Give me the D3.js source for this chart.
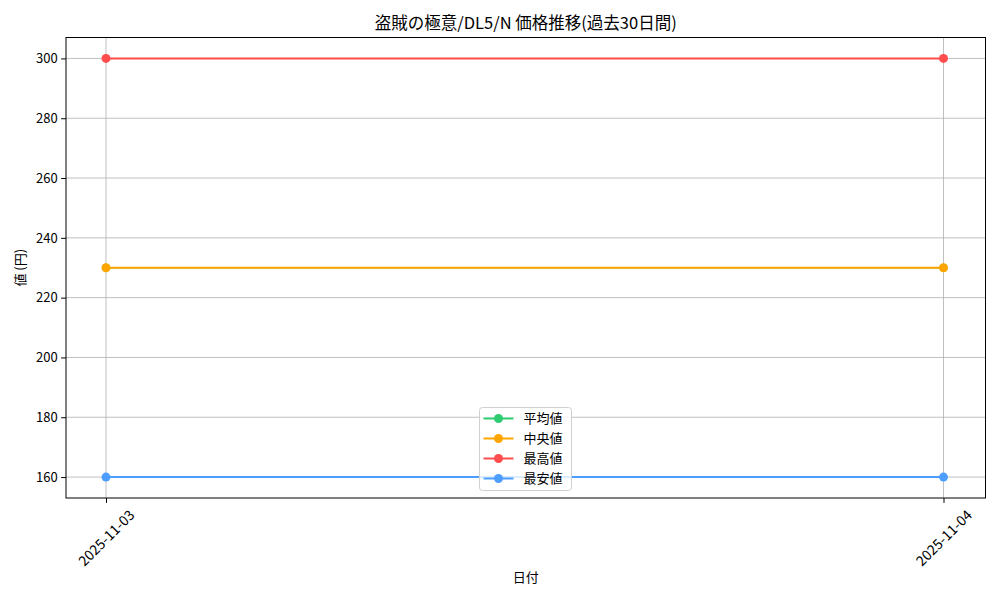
<!DOCTYPE html>
<html>
<head>
<meta charset="utf-8">
<script src="https://cdn.jsdelivr.net/npm/d3@7"></script>
<style>
  body { margin: 0; background: #fff; }
  svg text { font-family: "Noto Sans CJK JP", "DejaVu Sans", sans-serif; }
</style>
</head>
<body>
<svg id="chart" width="1000" height="600"></svg>
<script>
// data
var dates = ["2025-11-03", "2025-11-04"];
var seriesNames = ["平均値", "中央値", "最高値", "最安値"];
var seriesColors = ["#2ecc71", "#ffa500", "#ff4d4d", "#4d9eff"];
var avgValues = [230, 230];
var medianValues = [230, 230];
var maxValues = [300, 300];
var minValues = [160, 160];
var yTicks = [160, 180, 200, 220, 240, 260, 280, 300];

var allSeries = [avgValues, medianValues, maxValues, minValues];

var margin = {top: 37.5, right: 14.5, bottom: 102, left: 66};
var width = 1000 - margin.left - margin.right,
    height = 600 - margin.top - margin.bottom;

var svg = d3.select("#chart");
var g = svg.append("g").attr("transform", "translate(" + margin.left + "," + margin.top + ")");

var x = d3.scalePoint().domain(dates).range([40, width - 42]);
var y = d3.scaleLinear().domain([153, 307]).range([height, 0]);

// grid
g.append("g").selectAll("line.vg").data(dates).enter().append("line")
  .attr("x1", function(d) { return x(d); }).attr("x2", function(d) { return x(d); })
  .attr("y1", 0).attr("y2", height)
  .attr("stroke", "#b0b0b0").attr("stroke-width", 0.8);
g.append("g").selectAll("line.hg").data(yTicks).enter().append("line")
  .attr("x1", 0).attr("x2", width)
  .attr("y1", function(d) { return y(d); }).attr("y2", function(d) { return y(d); })
  .attr("stroke", "#b0b0b0").attr("stroke-width", 0.8);

// lines + dots (average is drawn first, median covers it)
var line = d3.line().x(function(d, i) { return x(dates[i]); }).y(function(d) { return y(d); });
allSeries.forEach(function(vals, s) {
  g.append("path").datum(vals)
    .attr("d", line).attr("fill", "none")
    .attr("stroke", seriesColors[s]).attr("stroke-width", s == 0 ? 1.6 : 2);
  g.append("g").selectAll("circle").data(vals).enter().append("circle")
    .attr("cx", function(d, i) { return x(dates[i]); })
    .attr("cy", function(d) { return y(d); })
    .attr("r", s == 0 ? 4 : 4.5).attr("fill", seriesColors[s]);
});

// axes
var xAxis = g.append("g").attr("transform", "translate(0," + height + ")")
  .call(d3.axisBottom(x).tickSize(4.9));
xAxis.select(".domain").remove();
xAxis.selectAll("text")
  .attr("font-size", 14).attr("fill", "#000")
  .attr("text-anchor", "middle")
  .attr("y", 0).attr("dy", "0.35em")
  .attr("transform", "translate(0,40) rotate(-45)");

var yAxis = g.append("g").call(d3.axisLeft(y).tickValues(yTicks).tickSize(4.9).tickPadding(3.5));
yAxis.select(".domain").remove();
yAxis.selectAll("text").attr("font-size", 13).attr("fill", "#000");
yAxis.selectAll(".tick line").attr("stroke", "#000");
xAxis.selectAll(".tick line").attr("stroke", "#000");

// frame
g.append("rect").attr("width", width).attr("height", height)
  .attr("fill", "none").attr("stroke", "#000").attr("stroke-width", 1);

// title
svg.append("text")
  .attr("x", margin.left + width / 2).attr("y", 29)
  .attr("text-anchor", "middle").attr("font-size", 16.5)
  .text("盗賊の極意/DL5/N 価格推移(過去30日間)");

// axis labels
svg.append("text")
  .attr("x", margin.left + width / 2).attr("y", 582)
  .attr("text-anchor", "middle").attr("font-size", 13)
  .text("日付");
svg.append("text")
  .attr("transform", "translate(25," + (margin.top + height / 2) + ") rotate(-90)")
  .attr("text-anchor", "middle").attr("font-size", 13)
  .text("値 (円)");

// legend
var lg = svg.append("g").attr("transform", "translate(479.5,407.5)");
lg.append("rect").attr("width", 92).attr("height", 83).attr("rx", 3)
  .attr("fill", "#fff").attr("fill-opacity", 0.8)
  .attr("stroke", "#d0d0d0").attr("stroke-width", 1);
seriesNames.forEach(function(name, i) {
  var yy = 11 + i * 20;
  lg.append("line").attr("x1", 4).attr("x2", 34).attr("y1", yy).attr("y2", yy)
    .attr("stroke", seriesColors[i]).attr("stroke-width", 2);
  lg.append("circle").attr("cx", 19).attr("cy", yy).attr("r", 4.5).attr("fill", seriesColors[i]);
  lg.append("text").attr("x", 44).attr("y", yy).attr("dy", "0.35em")
    .attr("font-size", 13).text(name);
});
</script>
</body>
</html>
